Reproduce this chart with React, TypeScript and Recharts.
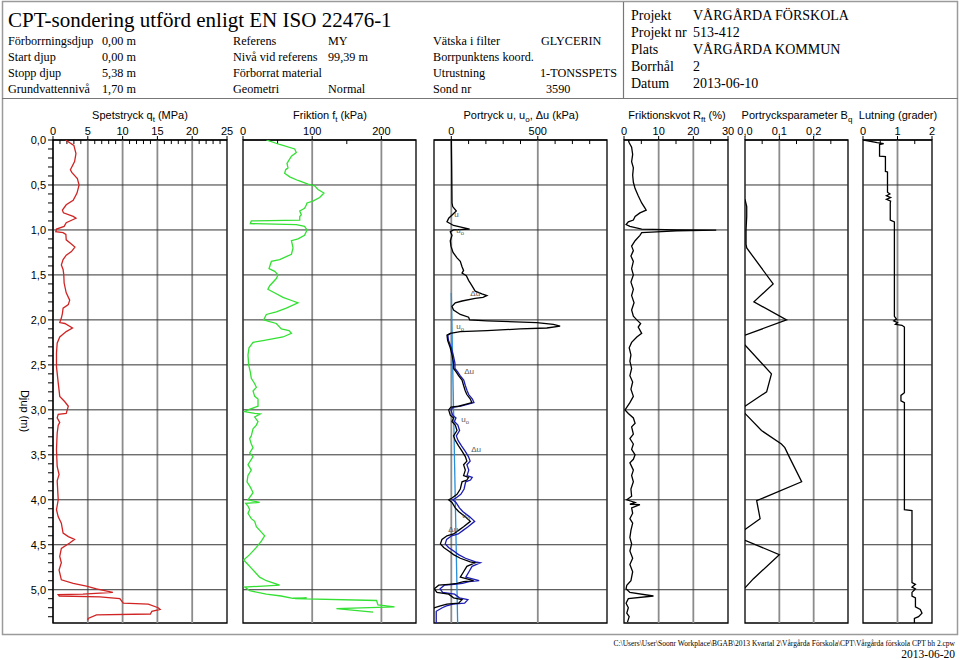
import React from "react"
import {
  ScatterChart,
  Scatter,
  XAxis,
  YAxis,
  ReferenceLine,
  ReferenceArea,
} from "recharts"

type Pt = { d: number; v: number; t?: string }

// depth (m), value
const qtRaw = [
  [0, 1.8], [0.06, 3.0], [0.15, 3.3], [0.24, 3.1], [0.33, 2.5], [0.36, 2.7], [0.43, 3.5], [0.5, 3.75],
  [0.59, 3.45], [0.67, 2.9], [0.72, 1.9], [0.78, 1.35], [0.81, 1.5], [0.85, 2.9], [0.87, 3.3], [0.92, 1.9],
  [0.96, 1.6], [0.99, 0.5], [1.02, 0.4], [1.03, 1.45], [1.05, 1.85], [1.11, 1.9], [1.15, 2.55], [1.19, 3.15],
  [1.24, 2.65], [1.28, 1.9], [1.33, 1.45], [1.39, 1.2], [1.44, 1.45], [1.5, 1.55], [1.59, 1.6], [1.7, 1.9],
  [1.78, 2.4], [1.83, 2.2], [1.87, 1.45], [1.93, 1.35], [1.98, 1.2], [2.03, 0.97], [2.04, 1.7], [2.09, 2.8],
  [2.13, 1.9], [2.19, 0.97], [2.26, 0.6], [2.37, 0.5], [2.52, 0.5], [2.7, 0.75], [2.85, 0.97], [2.91, 1.7],
  [2.96, 2.2], [3.04, 1.9], [3.05, 0.75], [3.09, 0.6], [3.14, 0.97], [3.17, 0.75], [3.26, 0.6], [3.44, 0.5],
  [3.63, 0.6], [3.72, 0.87], [3.79, 0.6], [4.0, 0.75], [4.11, 0.5], [4.19, 0.75], [4.26, 1.2], [4.37, 1.45],
  [4.41, 2.2], [4.44, 3.1], [4.48, 2.4], [4.54, 1.2], [4.63, 0.97], [4.7, 1.2], [4.78, 0.87], [4.89, 1.2],
  [4.93, 2.9], [4.96, 4.8], [4.99, 6.25], [5.03, 8.6], [5.05, 4.3], [5.055, 0.75], [5.07, 0.9], [5.08, 6.75],
  [5.1, 9.6], [5.15, 10.1], [5.16, 13.7], [5.2, 15.1], [5.22, 15.4], [5.24, 14.2], [5.27, 14.0], [5.28, 6.25],
  [5.32, 5.05], [5.34, 5.0],
]

const ftRaw = [
  [0, 33.7], [0.05, 53], [0.1, 74.7], [0.14, 77], [0.18, 70], [0.26, 63.6], [0.31, 65], [0.33, 61.7],
  [0.37, 60.2], [0.41, 67.5], [0.45, 79.5], [0.49, 94], [0.51, 103.6], [0.55, 108.4], [0.59, 117], [0.64, 110.8],
  [0.68, 101], [0.7, 92.5], [0.72, 91.6], [0.76, 89], [0.79, 82], [0.83, 84.3], [0.85, 82], [0.89, 82],
  [0.9, 12], [0.93, 10.6], [0.94, 77], [0.96, 89], [1.0, 92.5], [1.06, 89], [1.1, 79.5], [1.12, 70],
  [1.2, 72.3], [1.27, 70], [1.33, 53], [1.35, 41], [1.43, 37.6], [1.46, 45.8], [1.5, 50.6], [1.54, 48.2],
  [1.62, 38.6], [1.66, 36], [1.69, 43.4], [1.75, 57.8], [1.79, 72.3], [1.81, 79.5], [1.87, 62.6], [1.91, 48.2],
  [1.94, 33.7], [2.0, 29.9], [2.02, 38.6], [2.04, 48.2], [2.1, 55.4], [2.12, 66.5], [2.15, 70], [2.19, 57.8],
  [2.23, 28.9], [2.25, 14.5], [2.31, 8.7], [2.39, 7.2], [2.5, 8.2], [2.58, 10.6], [2.65, 12], [2.71, 16.9],
  [2.75, 19.3], [2.79, 14.5], [2.85, 16.9], [2.88, 21.7], [2.96, 21.7], [3.0, 7.2], [3.02, 2.4], [3.04, 16.9],
  [3.045, 25], [3.08, 16.9], [3.13, 21.7], [3.17, 19.3], [3.21, 14.5], [3.29, 12], [3.32, 9.6], [3.38, 12],
  [3.42, 14.5], [3.48, 9.6], [3.52, 14.5], [3.55, 12], [3.61, 7.2], [3.67, 12], [3.73, 7.2], [3.8, 5.8],
  [3.86, 10.6], [3.92, 14.5], [4.0, 7.2], [4.03, 24], [4.04, 3.9], [4.07, 7.2], [4.11, 9.6], [4.15, 7.2],
  [4.21, 12], [4.24, 16.9], [4.3, 19.3], [4.36, 26.5], [4.4, 31.3], [4.46, 26.5], [4.53, 19.3], [4.61, 9.6],
  [4.67, 1], [4.7, 4.8], [4.76, 12], [4.8, 16.9], [4.86, 24], [4.9, 33.7], [4.95, 53], [4.96, 28.9],
  [4.97, 2.4], [5.01, 9.6], [5.05, 33.7], [5.07, 55], [5.095, 72], [5.09, 92], [5.1, 75], [5.12, 193],
  [5.17, 195], [5.19, 219], [5.21, 135], [5.25, 188],
]

// Δu (black)
const duRaw = [
  [0, 0], [0.3, 2], [0.5, 3], [0.7, 4], [0.74, 8], [0.79, 29], [0.87, -15], [0.91, -25], [0.95, 13],
  [0.99, 106], [1.0, 13], [1.02, -6], [1.06, 4], [1.12, -6], [1.18, -2], [1.25, 10], [1.31, 33], [1.35, 52],
  [1.41, 62], [1.45, 71], [1.48, 62], [1.51, 87], [1.56, 100], [1.62, 119], [1.68, 138], [1.71, 177],
  [1.73, 206], [1.75, 183], [1.76, 138], [1.79, 62], [1.81, 23], [1.85, 4], [1.89, 13], [1.94, 52],
  [1.97, 100], [2.0, 106], [2.01, 206], [2.03, 494], [2.05, 590], [2.07, 629], [2.09, 552], [2.1, 398],
  [2.12, 206], [2.13, 52], [2.15, -6], [2.17, -25], [2.23, -21], [2.31, -6], [2.39, 4], [2.48, 13],
  [2.54, 13], [2.58, 29], [2.62, 42], [2.67, 62], [2.73, 71], [2.79, 81], [2.83, 90], [2.88, 110],
  [2.92, 119], [2.94, 81], [2.96, 42], [2.97, -2], [3.0, -15], [3.06, -6], [3.09, 13], [3.13, 4],
  [3.17, 23], [3.23, 33], [3.29, 13], [3.34, 23], [3.4, 42], [3.46, 62], [3.52, 81], [3.57, 90],
  [3.61, 71], [3.67, 81], [3.73, 71], [3.75, 100], [3.78, 90], [3.8, 62], [3.88, 52], [3.94, 33],
  [3.98, 4], [4.0, -15], [4.03, 4], [4.09, 23], [4.13, 42], [4.19, 81], [4.24, 110], [4.3, 71],
  [4.34, 42], [4.38, 13], [4.4, -25], [4.44, -54], [4.49, -63], [4.53, -44], [4.57, -15], [4.61, 13],
  [4.65, 52], [4.69, 110], [4.7, 138], [4.74, 90], [4.8, 71], [4.86, 52], [4.9, 129], [4.91, 71],
  [4.93, 33], [4.94, -15], [4.95, -73], [4.99, -98], [5.03, -83], [5.05, -15], [5.09, 13], [5.11, 62],
  [5.15, 42], [5.16, -25], [5.18, -63], [5.2, -95], [5.22, -122], [5.37, -123],
]

// u (dark blue)
const uRaw = [
  [2.15, -2], [2.17, -20], [2.23, -16], [2.31, 0], [2.39, 11], [2.48, 21], [2.54, 21], [2.58, 38],
  [2.62, 51], [2.67, 72], [2.73, 81], [2.79, 92], [2.83, 101], [2.88, 122], [2.92, 131], [2.94, 93],
  [2.96, 55], [2.97, 11], [3.0, -2], [3.06, 8], [3.09, 27], [3.13, 18], [3.17, 38], [3.23, 48],
  [3.29, 29], [3.34, 39], [3.4, 59], [3.46, 80], [3.52, 99], [3.57, 109], [3.61, 90], [3.67, 101],
  [3.73, 91], [3.75, 121], [3.78, 111], [3.8, 83], [3.88, 74], [3.94, 55], [3.98, 27], [4.0, 8],
  [4.03, 27], [4.09, 47], [4.13, 66], [4.19, 106], [4.24, 135], [4.3, 97], [4.34, 68], [4.38, 40],
  [4.4, 2], [4.44, -27], [4.49, -35], [4.53, -16], [4.57, 14], [4.61, 42], [4.65, 82], [4.69, 140],
  [4.7, 168], [4.74, 120], [4.8, 102], [4.86, 84], [4.9, 161], [4.91, 103], [4.93, 65], [4.94, 17],
  [4.95, -40], [4.99, -65], [5.03, -50], [5.05, 19], [5.09, 47], [5.11, 96], [5.15, 77], [5.16, 10],
  [5.18, -28], [5.2, -52], [5.24, -87], [5.37, -87],
]

// u0 (hydrostatic, from ground water level)
const u0Raw = [[1.7, 0], [5.37, 36.7]]

const puLabels: Pt[] = [
  { d: 0.86, v: 17, t: "u" },
  { d: 1.03, v: 29, t: "uo" },
  { d: 1.73, v: 110, t: "Δu" },
  { d: 2.1, v: 29, t: "uo" },
  { d: 2.6, v: 75, t: "Δu" },
  { d: 3.14, v: 58, t: "uo" },
  { d: 3.47, v: 115, t: "Δu" },
  { d: 4.2, v: 63, t: "uo" },
  { d: 4.36, v: -17, t: "Δu" },
]

const rfRaw = [
  [0, 1.25], [0.03, 1.5], [0.08, 2.2], [0.16, 2.5], [0.24, 2.2], [0.31, 2.7], [0.39, 2.5], [0.47, 2.7],
  [0.54, 3.2], [0.62, 4.1], [0.7, 5.1], [0.76, 6.1], [0.78, 6.4], [0.81, 4.6], [0.85, 3.2], [0.89, 2.7],
  [0.91, 1.25], [0.94, 0.6], [0.96, 1.7], [0.99, 5.1], [1.0, 15.2], [1.003, 26.6], [1.01, 15.2], [1.03, 5.1],
  [1.06, 4.6], [1.12, 3.2], [1.18, 2.2], [1.23, 2.7], [1.29, 2.0], [1.35, 2.7], [1.43, 2.2], [1.5, 2.7],
  [1.58, 2.0], [1.66, 2.7], [1.73, 2.2], [1.81, 2.9], [1.89, 2.2], [1.96, 2.7], [2.0, 3.7], [2.04, 4.8],
  [2.08, 4.1], [2.15, 5.1], [2.19, 3.7], [2.25, 2.2], [2.31, 1.5], [2.39, 2.0], [2.46, 1.7], [2.54, 2.2],
  [2.62, 1.7], [2.69, 2.5], [2.77, 2.0], [2.85, 2.7], [2.92, 1.7], [3.0, 0.3], [3.04, 1.25], [3.09, 2.7],
  [3.15, 3.2], [3.19, 2.2], [3.27, 2.7], [3.32, 1.7], [3.38, 2.7], [3.44, 2.2], [3.5, 3.2], [3.55, 2.7],
  [3.59, 1.7], [3.67, 2.7], [3.73, 2.2], [3.8, 2.7], [3.88, 2.0], [3.96, 2.2], [4.0, 0.8], [4.03, 3.2],
  [4.05, 1.7], [4.055, 4.6], [4.09, 2.2], [4.15, 2.5], [4.21, 1.7], [4.26, 2.5], [4.34, 2.0], [4.42, 1.7],
  [4.49, 2.2], [4.57, 1.7], [4.65, 2.5], [4.72, 1.7], [4.8, 2.5], [4.9, 2.0], [4.95, 0.8], [4.99, 0.6],
  [5.03, 1.7], [5.07, 8.5], [5.1, 1.25], [5.15, 0.6], [5.2, 1.25], [5.26, 0.8], [5.3, 1.5], [5.36, 1.0],
]

const bqRaw = [
  [0.66, 0], [0.74, 0.005], [0.85, 0.005], [1.0, 0.003], [1.16, 0.003], [1.2, 0.005], [1.6, 0.082],
  [1.8, 0.026], [2.0, 0.121], [2.17, 0], [2.225, -0.02], [2.28, 0], [2.6, 0.077], [2.8, 0.063], [2.96, 0],
  [3.0, -0.02], [3.04, 0], [3.23, 0.048], [3.38, 0.106], [3.42, 0.116], [3.54, 0.131], [3.8, 0.165],
  [4.01, 0.034], [4.21, 0.044], [4.33, 0], [4.39, -0.02], [4.45, 0], [4.61, 0.1], [4.88, 0.024], [4.98, 0],
]

const lutRaw = [
  [0, 0.02], [0.03, 0.41], [0.04, 0.6], [0.05, 0.48], [0.18, 0.48], [0.185, 0.65], [0.35, 0.65], [0.355, 0.71],
  [0.58, 0.71], [0.6, 0.78], [0.62, 0.68], [0.64, 0.8], [0.66, 0.68], [0.68, 0.8], [0.7, 0.79], [0.89, 0.79],
  [0.91, 0.91], [1.96, 0.91], [1.99, 0.97], [2.01, 0.89], [2.03, 1.0], [2.05, 0.94], [2.06, 1.13], [2.08, 1.2],
  [2.81, 1.2], [2.84, 1.1], [2.9, 1.1], [2.92, 1.2], [4.11, 1.2], [4.12, 1.42], [4.92, 1.42], [4.94, 1.52],
  [4.97, 1.42], [4.99, 1.52], [5.03, 1.42], [5.07, 1.42], [5.09, 1.52], [5.19, 1.52], [5.22, 1.66],
  [5.26, 1.71], [5.3, 1.61], [5.32, 1.49], [5.37, 1.49],
]

const toPts = (a: number[][]): Pt[] => a.map(([d, v]) => ({ d, v }))

const DEPTH_MAX = 5.37
const depthMajor = [0.5, 1, 1.5, 2, 2.5, 3, 3.5, 4, 4.5, 5]
const depthTicks = Array.from({ length: 54 }, (_, i) => i / 10)

const SANS = "'Liberation Sans', Arial, sans-serif"
const SERIF = "'Liberation Serif', 'Times New Roman', serif"

const comma = (n: number) => String(n).replace(".", ",")

type Series = { data: Pt[]; color: string; width?: number }
type PanelCfg = {
  left: number
  width: number
  domain: [number, number]
  ticks: number[]
  minor: number[]
  grid: number[]
  fmt?: (v: number) => string
  yAxis?: boolean
  series: Series[]
  labels?: Pt[]
}

const PAD = 14
const YW = 50

const panels: PanelCfg[] = [
  {
    left: 53, width: 174, domain: [0, 25], ticks: [0, 5, 10, 15, 20, 25],
    minor: [1, 2, 3, 4, 6, 7, 8, 9, 11, 12, 13, 14, 16, 17, 18, 19, 21, 22, 23, 24],
    grid: [5, 10, 15, 20], yAxis: true,
    series: [{ data: toPts(qtRaw), color: "#d02424" }],
  },
  {
    left: 243, width: 173, domain: [0, 250], ticks: [0, 100, 200], minor: [50, 150],
    grid: [100, 200],
    series: [{ data: toPts(ftRaw), color: "#33e033" }],
  },
  {
    left: 434, width: 173, domain: [-100, 900], ticks: [0, 500],
    minor: [100, 200, 300, 400, 600, 700, 800], grid: [0, 500],
    series: [
      { data: toPts(u0Raw), color: "#2a8fd8" },
      { data: toPts(uRaw), color: "#1c1cb4" },
      { data: toPts(duRaw), color: "#000" },
    ],
    labels: puLabels,
  },
  {
    left: 624, width: 104, domain: [0, 30], ticks: [0, 10, 20, 30], minor: [5, 15, 25],
    grid: [10, 20],
    series: [{ data: toPts(rfRaw), color: "#000" }],
  },
  {
    left: 745, width: 103, domain: [0, 0.3], ticks: [0, 0.1, 0.2], minor: [0.05, 0.15, 0.25],
    grid: [0.1, 0.2], fmt: (v) => v.toFixed(1).replace(".", ","),
    series: [{ data: toPts(bqRaw), color: "#000" }],
  },
  {
    left: 863, width: 69, domain: [0, 2], ticks: [0, 1, 2], minor: [0.5, 1.5],
    grid: [1],
    series: [{ data: toPts(lutRaw), color: "#000" }],
  },
]

const noDot = () => <g />

const LabelShape = (p: any) => {
  const t: string = p.payload?.t ?? ""
  const main = t === "uo" ? "u" : t
  return (
    <text x={p.cx} y={p.cy} fontSize={8} fill="#555" fontFamily={SANS}>
      {main}
      {t === "uo" && (
        <tspan fontSize={6} dy={2}>o</tspan>
      )}
    </text>
  )
}

function Panel({ cfg }: { cfg: PanelCfg }) {
  const yw = cfg.yAxis ? YW : 0
  const w = cfg.width + PAD * 2 + yw
  return (
    <div style={{ position: "absolute", left: cfg.left - PAD - yw, top: 100 }}>
      <ScatterChart width={w} height={525} margin={{ top: 0, right: PAD, bottom: 2, left: PAD }}>
        <XAxis
          xAxisId={0}
          type="number"
          dataKey="v"
          orientation="top"
          domain={cfg.domain}
          ticks={cfg.ticks}
          interval={0}
          allowDataOverflow
          height={40}
          tickSize={4}
          tickMargin={1}
          tickFormatter={cfg.fmt ?? comma}
          tick={{ fontSize: 11, fill: "#000", fontFamily: SANS }}
          axisLine={{ stroke: "#000" }}
          tickLine={{ stroke: "#000" }}
        />
        <YAxis
          yAxisId={0}
          type="number"
          dataKey="d"
          reversed
          domain={[0, DEPTH_MAX]}
          allowDataOverflow
          hide={!cfg.yAxis}
          width={YW}
          ticks={depthTicks}
          interval={0}
          tickSize={5}
          tickMargin={2}
          tickFormatter={(v: number) =>
            Math.abs(v * 2 - Math.round(v * 2)) < 1e-6 ? v.toFixed(1).replace(".", ",") : ""
          }
          tick={{ fontSize: 11, fill: "#000", fontFamily: SANS }}
          axisLine={{ stroke: "#000" }}
          tickLine={{ stroke: "#000" }}
        />
        {cfg.grid.map((g) => (
          <ReferenceLine key={"gx" + g} x={g} stroke="#8c8c8c" strokeWidth={1.8} />
        ))}
        {depthMajor.map((g) => (
          <ReferenceLine key={"gy" + g} y={g} stroke="#333" strokeWidth={1} />
        ))}
        {cfg.minor.map((m) => (
          <ReferenceLine
            key={"m" + m}
            segment={[{ x: m, y: 0 }, { x: m, y: 0.045 }]}
            stroke="#000"
            strokeWidth={1}
          />
        ))}
        <ReferenceArea
          x1={cfg.domain[0]}
          x2={cfg.domain[1]}
          y1={0}
          y2={DEPTH_MAX}
          fill="none"
          fillOpacity={0}
          stroke="#000"
          strokeWidth={1.3}
        />
        {cfg.series.map((s, i) => (
          <Scatter
            key={i}
            data={s.data}
            line={{ stroke: s.color, strokeWidth: s.width ?? 1.3 }}
            lineJointType="linear"
            shape={noDot}
            fill="none"
            isAnimationActive={false}
          />
        ))}
        {cfg.labels && (
          <Scatter data={cfg.labels} shape={LabelShape} isAnimationActive={false} />
        )}
      </ScatterChart>
    </div>
  )
}

const headerLeft: [string, number, number][] = [
  ["Förborrningsdjup", 8, 44.5], ["0,00 m", 102, 44.5],
  ["Start djup", 8, 60.5], ["0,00 m", 102, 60.5],
  ["Stopp djup", 8, 76.5], ["5,38 m", 102, 76.5],
  ["Grundvattennivå", 8, 92.5], ["1,70 m", 102, 92.5],
  ["Referens", 233, 44.5], ["MY", 328, 44.5],
  ["Nivå vid referens", 233, 60.5], ["99,39 m", 328, 60.5],
  ["Förborrat material", 233, 76.5],
  ["Geometri", 233, 92.5], ["Normal", 328, 92.5],
  ["Vätska i filter", 433, 44.5], ["GLYCERIN", 541, 44.5],
  ["Borrpunktens koord.", 433, 60.5],
  ["Utrustning", 433, 76.5], ["1-TONSSPETS", 540, 76.5],
  ["Sond nr", 433, 92.5], ["3590", 546, 92.5],
]

const headerRight: [string, string][] = [
  ["Projekt", "VÅRGÅRDA FÖRSKOLA"],
  ["Projekt nr", "513-412"],
  ["Plats", "VÅRGÅRDA KOMMUN"],
  ["Borrhål", "2"],
  ["Datum", "2013-06-10"],
]

export default function App() {
  return (
    <div style={{ position: "absolute", left: 0, top: 0, width: 960, height: 660, background: "#fff", overflow: "hidden" }}>
      <svg width={960} height={660} style={{ position: "absolute", left: 0, top: 0 }}>
        <rect x={2.5} y={1.5} width={955} height={633} fill="none" stroke="#9a9a9a" strokeWidth={1.5} />
        <line x1={2} y1={98.5} x2={958} y2={98.5} stroke="#777" strokeWidth={1.2} />
        <line x1={623.5} y1={2} x2={623.5} y2={98} stroke="#777" strokeWidth={1.2} />
        <text x={8} y={27} fontSize={21} fontFamily={SERIF} fill="#000">
          CPT-sondering utförd enligt EN ISO 22476-1
        </text>
        {headerLeft.map(([t, x, y], i) => (
          <text key={i} x={x} y={y} fontSize={12.2} fontFamily={SERIF} fill="#000">{t}</text>
        ))}
        {headerRight.map(([a, b], i) => (
          <g key={i}>
            <text x={631} y={20 + i * 17} fontSize={14} fontFamily={SERIF} fill="#000">{a}</text>
            <text x={693} y={20 + i * 17} fontSize={14} fontFamily={SERIF} fill="#000">{b}</text>
          </g>
        ))}
        <g fontFamily={SANS} fontSize={11} fill="#000" textAnchor="middle">
          <text x={140} y={119}>Spetstryck q<tspan fontSize={8} dy={3}>t</tspan><tspan dy={-3}>  (MPa)</tspan></text>
          <text x={330} y={119}>Friktion f<tspan fontSize={8} dy={3}>t</tspan><tspan dy={-3}>  (kPa)</tspan></text>
          <text x={521} y={119}>Portryck u, u<tspan fontSize={8} dy={3}>o</tspan><tspan dy={-3}>, Δu  (kPa)</tspan></text>
          <text x={677} y={119}>Friktionskvot R<tspan fontSize={8} dy={3}>ft</tspan><tspan dy={-3}>  (%)</tspan></text>
          <text x={797} y={119}>Portrycksparameter B<tspan fontSize={8} dy={3}>q</tspan></text>
          <text x={898} y={119}>Lutning (grader)</text>
          <text x={0} y={0} transform="translate(21 411) rotate(90)">Djup  (m)</text>
        </g>
        <text x={955} y={646} fontSize={7.5} fontFamily={SERIF} fill="#000" textAnchor="end">
          C:\Users\User\Soonr Workplace\BGAB\2013 Kvartal 2\Vårgårda Förskola\CPT\Vårgårda förskola CPT bh 2.cpw
        </text>
        <text x={955} y={658} fontSize={11.5} fontFamily={SERIF} fill="#000" textAnchor="end">
          2013-06-20
        </text>
      </svg>
      {panels.map((p, i) => (
        <Panel key={i} cfg={p} />
      ))}
    </div>
  )
}
